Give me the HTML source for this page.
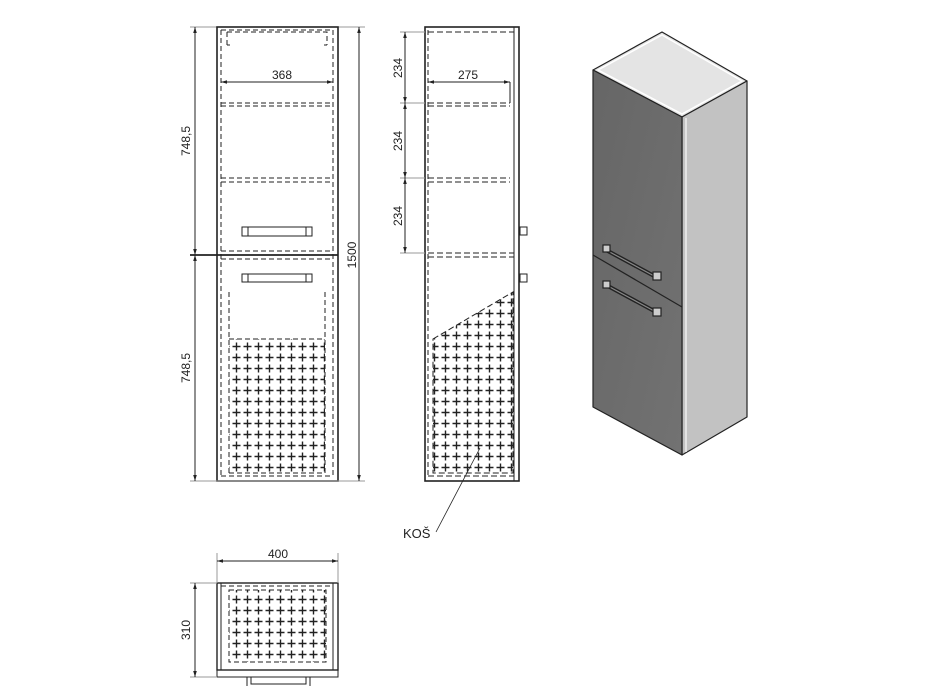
<!DOCTYPE html>
<html><head><style>body{margin:0;background:#fff}svg{display:block}text{font-family:"Liberation Sans",sans-serif;fill:#222}</style></head><body>
<svg width="928" height="686" viewBox="0 0 928 686" xmlns="http://www.w3.org/2000/svg">
<defs>
<pattern id="cr" x="0" y="0" width="11" height="11" patternUnits="userSpaceOnUse">
<path d="M5.5 1.5V9.5M1.5 5.5H9.5" stroke="#222" stroke-width="1.4"/>
</pattern>
<marker id="a" viewBox="0 0 10 10" refX="10" refY="5" markerWidth="6" markerHeight="6" orient="auto-start-reverse"><path d="M0 2L10 5L0 8z" fill="#222"/></marker>
<clipPath id="tri"><polygon points="433,339 513,292 513,473 433,473"/></clipPath>
<linearGradient id="dg" x1="0" y1="0" x2="1" y2="1"><stop offset="0" stop-color="#666"/><stop offset="1" stop-color="#727272"/></linearGradient>
</defs>
<g stroke="#222" fill="none" stroke-width="1">
<line x1="190" y1="27" x2="365" y2="27" stroke="#999"/>
<rect x="217" y="27" width="121" height="454" stroke-width="1.6"/>
<line x1="190" y1="255" x2="338" y2="255" stroke-width="1.8"/>
<line x1="190" y1="481" x2="365" y2="481" stroke="#999"/>
<g stroke-dasharray="5,3">
<line x1="221" y1="30" x2="221" y2="478"/><line x1="333" y1="30" x2="333" y2="478"/>
<line x1="221" y1="30" x2="333" y2="30"/>
<path d="M227 32V45M227 32H327V45M230 45H227M324 45H327"/>
<line x1="221" y1="103" x2="333" y2="103"/><line x1="221" y1="106" x2="333" y2="106"/>
<line x1="221" y1="178" x2="333" y2="178"/><line x1="221" y1="182" x2="333" y2="182"/>
<line x1="221" y1="251" x2="333" y2="251"/><line x1="221" y1="259" x2="333" y2="259"/>
<line x1="221" y1="476" x2="333" y2="476"/>
<line x1="229" y1="292" x2="229" y2="473"/><line x1="325" y1="292" x2="325" y2="473"/>
<line x1="229" y1="339" x2="325" y2="339"/><line x1="229" y1="473" x2="325" y2="473"/>
</g>
<rect x="242" y="227" width="70" height="9"/><line x1="248" y1="227" x2="248" y2="236"/><line x1="306" y1="227" x2="306" y2="236"/>
<rect x="242" y="274" width="70" height="8"/><line x1="248" y1="274" x2="248" y2="282"/><line x1="306" y1="274" x2="306" y2="282"/>
<line x1="221" y1="82" x2="333" y2="82" marker-start="url(#a)" marker-end="url(#a)"/>
<line x1="195" y1="27" x2="195" y2="255" marker-start="url(#a)" marker-end="url(#a)"/>
<line x1="195" y1="255" x2="195" y2="481" marker-start="url(#a)" marker-end="url(#a)"/>
<line x1="359" y1="27" x2="359" y2="481" marker-start="url(#a)" marker-end="url(#a)"/>
<rect x="425" y="27" width="94" height="454" stroke-width="1.6"/>
<line x1="514" y1="27" x2="514" y2="481"/>
<line x1="428" y1="30" x2="428" y2="478" stroke-dasharray="5,3"/>
<g stroke-dasharray="6,3">
<line x1="428" y1="32" x2="514" y2="32"/>
<line x1="428" y1="103" x2="510" y2="103"/><line x1="428" y1="106" x2="510" y2="106"/>
<line x1="428" y1="178" x2="510" y2="178"/><line x1="428" y1="182" x2="510" y2="182"/>
<line x1="428" y1="253" x2="514" y2="253"/><line x1="428" y1="257" x2="514" y2="257"/>
<line x1="428" y1="476" x2="514" y2="476"/>
<path d="M433 339L513 292V473H433Z"/>
</g>
<line x1="400" y1="32" x2="425" y2="32" stroke="#999"/><line x1="400" y1="103" x2="425" y2="103" stroke="#999"/>
<line x1="400" y1="178" x2="425" y2="178" stroke="#999"/><line x1="400" y1="253" x2="425" y2="253" stroke="#999"/>
<line x1="405" y1="32" x2="405" y2="103" marker-start="url(#a)" marker-end="url(#a)"/>
<line x1="405" y1="103" x2="405" y2="178" marker-start="url(#a)" marker-end="url(#a)"/>
<line x1="405" y1="178" x2="405" y2="253" marker-start="url(#a)" marker-end="url(#a)"/>
<line x1="428" y1="82" x2="510" y2="82" marker-start="url(#a)" marker-end="url(#a)"/>
<line x1="510" y1="82" x2="510" y2="103"/>
<rect x="520" y="227" width="7" height="8"/><rect x="520" y="274" width="7" height="8"/>
<line x1="436" y1="532" x2="480" y2="448" stroke-width="0.8"/>
<rect x="217" y="583" width="121" height="87" stroke-width="1.4"/>
<rect x="217" y="670" width="121" height="7"/>
<path d="M247 677V686M310 677V686M251 677V684H306V677"/>
<line x1="221" y1="583" x2="221" y2="670"/><line x1="333" y1="583" x2="333" y2="670"/>
<g stroke-dasharray="5,3">
<line x1="221" y1="586" x2="333" y2="586"/>
<rect x="229" y="590" width="97" height="72"/>
</g>
<line x1="217" y1="553" x2="217" y2="583" stroke="#999"/><line x1="338" y1="553" x2="338" y2="583" stroke="#999"/>
<line x1="217" y1="561" x2="338" y2="561" marker-start="url(#a)" marker-end="url(#a)"/>
<line x1="190" y1="583" x2="217" y2="583" stroke="#999"/><line x1="190" y1="677" x2="217" y2="677" stroke="#999"/>
<line x1="195" y1="583" x2="195" y2="677" marker-start="url(#a)" marker-end="url(#a)"/>
</g>
<rect x="229" y="339" width="96" height="134" fill="url(#cr)"/>
<rect x="433" y="292" width="80" height="181" fill="url(#cr)" clip-path="url(#tri)"/>
<rect x="229" y="590" width="97" height="72" fill="url(#cr)"/>
<g font-size="12">
<text x="282" y="79" text-anchor="middle">368</text>
<text x="468" y="79" text-anchor="middle">275</text>
<text x="278" y="558" text-anchor="middle">400</text>
<text transform="translate(190,141) rotate(-90)" text-anchor="middle">748,5</text>
<text transform="translate(190,368) rotate(-90)" text-anchor="middle">748,5</text>
<text transform="translate(356,255) rotate(-90)" text-anchor="middle">1500</text>
<text transform="translate(402,68) rotate(-90)" text-anchor="middle">234</text>
<text transform="translate(402,141) rotate(-90)" text-anchor="middle">234</text>
<text transform="translate(402,216) rotate(-90)" text-anchor="middle">234</text>
<text transform="translate(190,630) rotate(-90)" text-anchor="middle">310</text>
<text x="403" y="538" font-size="13">KOŠ</text>
</g>
<g stroke="#222" stroke-width="1.2" stroke-linejoin="round">
<polygon points="593,70 662,32 747,81 682,117" fill="#e4e4e4"/>
<polygon points="682,117 747,81 747,417 682,455" fill="#c2c2c2"/>
<polygon points="593,70 682,117 682,455 593,407" fill="url(#dg)"/>
</g>
<polygon points="598,70 662,35 742,81 682,114" fill="none" stroke="#fff" stroke-width="1.5"/>
<line x1="686" y1="118" x2="686" y2="452" stroke="#eee" stroke-width="1.5"/>
<line x1="593" y1="255" x2="682" y2="307" stroke="#222" stroke-width="1.2"/>
<g stroke="#222" stroke-width="1.2">
<path d="M606 250L656 277" stroke="#222" stroke-width="4"/><path d="M606 250L656 277" stroke="#888" stroke-width="1.2"/>
<rect x="603" y="245" width="7" height="7" fill="#ccc"/><rect x="653" y="272" width="8" height="8" fill="#ccc"/>
<path d="M606 285L656 312" stroke="#222" stroke-width="4"/><path d="M606 285L656 312" stroke="#888" stroke-width="1.2"/>
<rect x="603" y="281" width="7" height="7" fill="#ccc"/><rect x="653" y="308" width="8" height="8" fill="#ccc"/>
</g>
</svg>
</body></html>
